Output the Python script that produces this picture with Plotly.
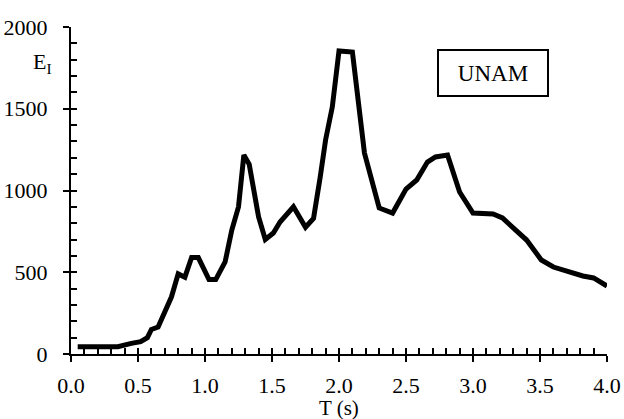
import plotly.graph_objects as go

# Input energy spectrum E_I versus period T
period_s = [0.05, 0.35, 0.45, 0.52, 0.57, 0.60, 0.65, 0.72, 0.75, 0.80, 0.85, 0.90, 0.95,
            1.03, 1.08, 1.15, 1.20, 1.25, 1.29, 1.33, 1.40, 1.45, 1.51, 1.56, 1.66,
            1.75, 1.81, 1.86, 1.90, 1.95, 2.00, 2.10, 2.19, 2.30, 2.40, 2.50, 2.58,
            2.66, 2.72, 2.81, 2.90, 3.00, 3.15, 3.22, 3.40, 3.51, 3.60, 3.82, 3.90, 4.00]
energy = [45, 45, 65, 75, 100, 150, 165, 290, 350, 490, 470, 590, 590,
          455, 455, 563, 758, 900, 1217, 1160, 838, 700, 740, 807, 900,
          775, 830, 1083, 1310, 1511, 1853, 1847, 1229, 893, 862, 1009, 1064,
          1174, 1205, 1217, 991, 862, 856, 832, 697, 575, 532, 477, 465, 416]

x_range = [0, 4]
y_range = [0, 2000]

FONT = "Liberation Serif"

fig = go.Figure()
fig.add_trace(go.Scatter(x=period_s, y=energy, mode="lines",
                         line=dict(color="black", width=5), showlegend=False,
                         hoverinfo="skip"))
# invisible copy so the overlay axes (inner tick marks) are drawn
fig.add_trace(go.Scatter(x=period_s, y=energy, mode="lines", xaxis="x2", yaxis="y2",
                         line=dict(color="rgba(0,0,0,0)", width=0), showlegend=False,
                         hoverinfo="skip"))

common = dict(showgrid=False, zeroline=False, color="black", linecolor="black",
              tickcolor="black", tickwidth=2, automargin=False)

fig.update_layout(
    width=624, height=419,
    margin=dict(l=71, r=17, t=27, b=65),
    paper_bgcolor="white", plot_bgcolor="white",
    font=dict(family=FONT, size=22, color="black"),
    # main axes: labels and the outer half of the major ticks
    xaxis=dict(range=x_range, tickmode="linear", tick0=0, dtick=0.5, tickformat=".1f",
               ticks="outside", ticklen=6, showline=True, linewidth=2,
               ticklabelstandoff=5, **common),
    yaxis=dict(range=y_range, tickmode="linear", tick0=0, dtick=500,
               ticks="outside", ticklen=6, showline=True, linewidth=2,
               ticklabelstandoff=11, **common),
    # overlay axes: inward ticks every 0.1 s and every 100 units
    xaxis2=dict(range=x_range, tickmode="linear", tick0=0, dtick=0.1, ticks="inside",
                ticklen=6, showticklabels=False, overlaying="x", showline=False,
                **common),
    yaxis2=dict(range=y_range, tickmode="linear", tick0=0, dtick=100, ticks="inside",
                ticklen=6, showticklabels=False, overlaying="y", showline=False,
                **common),
)

fig.add_annotation(text="T (s)", xref="paper", yref="paper", x=0.5, y=-0.166,
                   xanchor="center", yanchor="middle", showarrow=False,
                   font=dict(family=FONT, size=21, color="black"))

fig.add_annotation(text="E<sub>I</sub>", xref="paper", yref="y", x=-0.032, y=1780,
                   xanchor="right", yanchor="middle", showarrow=False,
                   font=dict(family=FONT, size=22, color="black"))

fig.add_annotation(text="UNAM", xref="x", yref="y", x=3.15, y=1719,
                   xanchor="center", yanchor="middle", showarrow=False,
                   width=106, height=42, bordercolor="black", borderwidth=2,
                   bgcolor="white", font=dict(family=FONT, size=23, color="black"))

fig.write_html("out.html")
